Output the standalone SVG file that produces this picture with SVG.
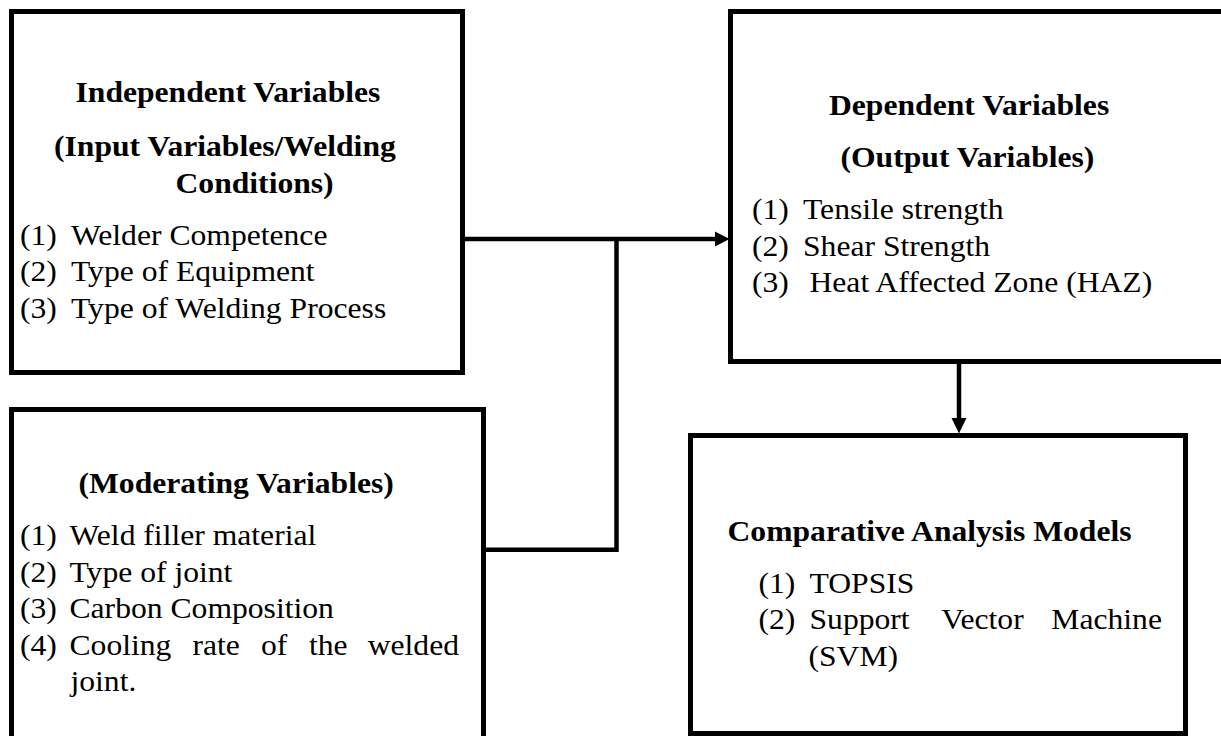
<svg xmlns="http://www.w3.org/2000/svg" width="1221" height="736" viewBox="0 0 1221 736">
<style>
.box{fill:#fff;stroke:#000;stroke-width:5}
.con{fill:none;stroke:#000;stroke-width:4.5}
.ah{fill:#000;stroke:none}
text{font-family:"Liberation Serif","Times New Roman",serif;font-size:28.5px;fill:#000}
.b{font-weight:bold}
</style>
<rect x="0" y="0" width="1221" height="736" fill="#fff"/>
<g id="connectors">
<path class="con" d="M463 239 H716"/>
<polygon class="ah" points="715,231.5 729.5,239 715,246.5"/>
<path class="con" d="M616.5 239 V549.7 H484"/>
<path class="con" d="M959 364 V419"/>
<polygon class="ah" points="951.5,418 959,433.5 966.5,418"/>
</g>
<g id="independent">
<rect class="box" x="11.5" y="11.5" width="451" height="361"/>
<g transform="scale(1.11 1)">
<text class="b" x="68.02" y="102">Independent Variables</text>
<text class="b" x="48.65" y="156">(Input Variables/Welding</text>
<text class="b" x="158.11" y="193">Conditions)</text>
<text x="18.02" y="245">(1)</text><text x="63.96" y="245">Welder Competence</text>
<text x="18.02" y="281.5">(2)</text><text x="63.96" y="281.5">Type of Equipment</text>
<text x="18.02" y="318">(3)</text><text x="63.96" y="318">Type of Welding Process</text>
</g>
</g>
<g id="moderating">
<rect class="box" x="11.5" y="409.5" width="472" height="345"/>
<g transform="scale(1.11 1)">
<text class="b" x="70.72" y="493">(Moderating Variables)</text>
<text x="18.02" y="545.5">(1)</text><text x="62.61" y="545.5">Weld filler material</text>
<text x="18.02" y="582">(2)</text><text x="62.61" y="582">Type of joint</text>
<text x="18.02" y="618.5">(3)</text><text x="62.61" y="618.5">Carbon Composition</text>
<text x="18.02" y="655">(4)</text><text y="655"><tspan x="62.61">Cooling</tspan> <tspan x="173.42">rate</tspan> <tspan x="235.14">of</tspan> <tspan x="278.38">the</tspan> <tspan x="331.26">welded</tspan></text>
<text x="63.5" y="691.5">joint.</text>
</g>
</g>
<g id="dependent">
<rect class="box" x="730.5" y="11.5" width="500" height="350"/>
<g transform="scale(1.11 1)">
<text class="b" x="746.85" y="115">Dependent Variables</text>
<text class="b" x="757.21" y="167.5">(Output Variables)</text>
<text x="677.48" y="219.5">(1)</text><text x="723.42" y="219.5">Tensile strength</text>
<text x="677.48" y="256">(2)</text><text x="723.42" y="256">Shear Strength</text>
<text x="677.48" y="292.5">(3)</text><text x="729.28" y="292.5">Heat Affected Zone (HAZ)</text>
</g>
</g>
<g id="comparative">
<rect class="box" x="690.5" y="435.5" width="495" height="298"/>
<g transform="scale(1.11 1)">
<text class="b" x="655.41" y="541.5">Comparative Analysis Models</text>
<text x="683.33" y="593.5">(1)</text><text x="729.28" y="593.5">TOPSIS</text>
<text x="683.33" y="629.5">(2)</text><text y="629.5"><tspan x="729.28">Support</tspan> <tspan x="847.93">Vector</tspan> <tspan x="947.12">Machine</tspan></text>
<text x="728.38" y="666">(SVM)</text>
</g>
</g>
</svg>
